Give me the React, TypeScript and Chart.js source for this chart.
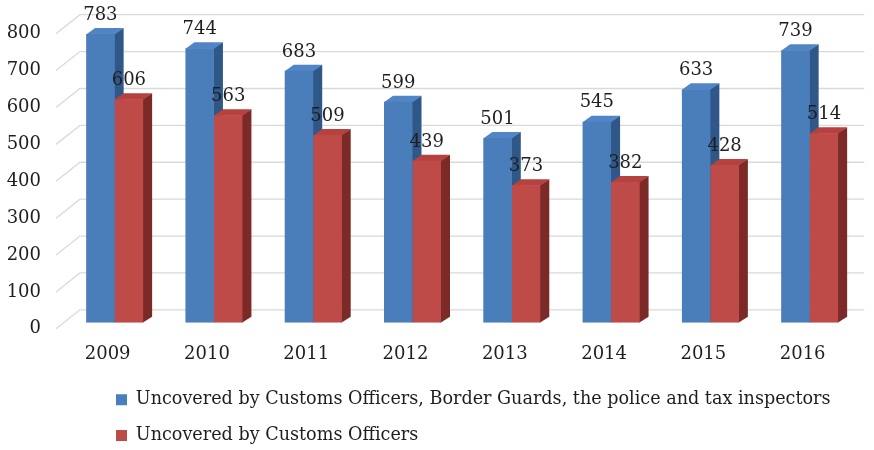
import React, { useEffect, useRef } from "react";
import { Chart, registerables } from "chart.js";

Chart.register(...registerables);

// ---- data ----
const years = ["2009", "2010", "2011", "2012", "2013", "2014", "2015", "2016"];
const allServices = [783, 744, 683, 599, 501, 545, 633, 739];
const customsOnly = [606, 563, 509, 439, 373, 382, 428, 514];
const yTickValues = [0, 100, 200, 300, 400, 500, 600, 700, 800];
const seriesNames = [
  "Uncovered by Customs Officers, Border Guards, the police and tax inspectors",
  "Uncovered by Customs Officers",
];

// ---- styles ----
const FONT = '"DejaVu Serif", serif';
const FONT_SIZE = 18;
const LEGEND_FONT_SIZE = 17.6;
const TEXT = "#1e1e1e";
const BLUE = { front: "#4a7ebb", top: "#5185c6", side: "#2f5788" };
const RED = { front: "#be4b48", top: "#b5423f", side: "#7b2a28" };
const DEPTH_X = 9;
const DEPTH_Y = -6;
const FLOOR_DROP_VALUE = 16.3; // front plane offset in value units
const WALL_DX = 24;
const WALL_DY = -19;

const threeD = {
  id: "threeD",
  afterLayout(chart: any) {
    const lg = chart.legend;
    if (lg) {
      lg.left = 98;
      lg.right = 874;
      lg.top = 373;
      lg.bottom = lg.top + lg.height;
    }
  },
  beforeDatasetsDraw(chart: any) {
    const ctx = chart.ctx;
    const area = chart.chartArea;
    const y = chart.scales.y;
    ctx.save();
    ctx.lineWidth = 1.3;
    ctx.strokeStyle = "#d9d9d9";
    yTickValues.forEach((v) => {
      const py = y.getPixelForValue(v);
      const fx = area.left - 9;
      ctx.beginPath();
      ctx.moveTo(fx, py);
      ctx.lineTo(fx + WALL_DX, py + WALL_DY);
      ctx.lineTo(area.right + 5, py + WALL_DY);
      ctx.stroke();
    });
    const palettes = [BLUE, RED];
    years.forEach((_, i) => {
      [0, 1].forEach((d) => {
        const meta = chart.getDatasetMeta(d);
        const bar: any = meta.data[i];
        if (!bar) return;
        const x0 = bar.x - bar.width / 2;
        const x1 = bar.x + bar.width / 2;
        const top = bar.y;
        const base = bar.base;
        const pal = palettes[d];
        ctx.fillStyle = pal.side;
        ctx.beginPath();
        ctx.moveTo(x1 - 0.5, top);
        ctx.lineTo(x1 + DEPTH_X, top + DEPTH_Y);
        ctx.lineTo(x1 + DEPTH_X, base + DEPTH_Y);
        ctx.lineTo(x1 - 0.5, base);
        ctx.closePath();
        ctx.fill();
        ctx.fillStyle = pal.top;
        ctx.beginPath();
        ctx.moveTo(x0, top + 0.5);
        ctx.lineTo(x1, top + 0.5);
        ctx.lineTo(x1 + DEPTH_X, top + DEPTH_Y);
        ctx.lineTo(x0 + DEPTH_X, top + DEPTH_Y);
        ctx.closePath();
        ctx.fill();
      });
    });
    ctx.restore();
  },
  afterDatasetsDraw(chart: any) {
    const ctx = chart.ctx;
    ctx.save();
    ctx.font = `${FONT_SIZE}px ${FONT}`;
    ctx.fillStyle = TEXT;
    ctx.textAlign = "center";
    ctx.textBaseline = "middle";
    [0, 1].forEach((d) => {
      const meta = chart.getDatasetMeta(d);
      const values = chart.data.datasets[d].data;
      meta.data.forEach((bar: any, i: number) => {
        ctx.fillText(String(values[i]), bar.x, bar.y - 19);
      });
    });
    ctx.restore();
  },
};

export default function App() {
  const ref = useRef<HTMLCanvasElement | null>(null);
  useEffect(() => {
    if (!ref.current) return;
    const chart = new Chart(ref.current, {
      type: "bar",
      data: {
        labels: years,
        datasets: [
          {
            label: seriesNames[0],
            data: allServices,
            backgroundColor: BLUE.front,
            borderWidth: 0,
            yAxisID: "yb",
            categoryPercentage: 0.574,
            barPercentage: 1,
          },
          {
            label: seriesNames[1],
            data: customsOnly,
            backgroundColor: RED.front,
            borderWidth: 0,
            yAxisID: "yb",
            categoryPercentage: 0.574,
            barPercentage: 1,
          },
        ],
      },
      options: {
        responsive: false,
        animation: false,
        layout: { padding: { left: 6, right: 14.7, top: 10, bottom: 0 } },
        plugins: {
          title: { display: false },
          tooltip: { enabled: false },
          legend: {
            position: "bottom",
            align: "start",
            labels: {
              boxWidth: 11,
              boxHeight: 11,
              padding: 18,
              color: TEXT,
              font: { family: FONT, size: LEGEND_FONT_SIZE },
            },
          },
        },
        scales: {
          x: {
            grid: { display: false, drawTicks: false },
            border: { display: false },
            ticks: {
              color: TEXT,
              font: { family: FONT, size: FONT_SIZE },
              padding: 21,
              labelOffset: -7,
            },
            afterFit: (s: any) => {
              s.height = 46;
              s.paddingLeft = 0;
              s.paddingRight = 0;
            },
          },
          yb: {
            display: false,
            position: "left",
            min: 0,
            max: 848,
          },
          y: {
            position: "left",
            min: FLOOR_DROP_VALUE,
            max: 848 + FLOOR_DROP_VALUE,
            grid: { display: false, drawTicks: false },
            border: { display: false },
            ticks: {
              color: TEXT,
              font: { family: FONT, size: FONT_SIZE },
              padding: 24,
            },
            afterBuildTicks: (s: any) => {
              s.ticks = yTickValues.map((v) => ({ value: v }));
            },
            afterFit: (s: any) => {
              s.width = 59;
              s.paddingTop = 0;
              s.paddingBottom = 0;
            },
          },
        },
      },
      plugins: [threeD],
    } as any);
    return () => chart.destroy();
  }, []);
  return (
    <div style={{ position: "fixed", left: 0, top: 0, width: 874, height: 450, background: "#fff" }}>
      <canvas ref={ref} width={874} height={450} />
    </div>
  );
}
